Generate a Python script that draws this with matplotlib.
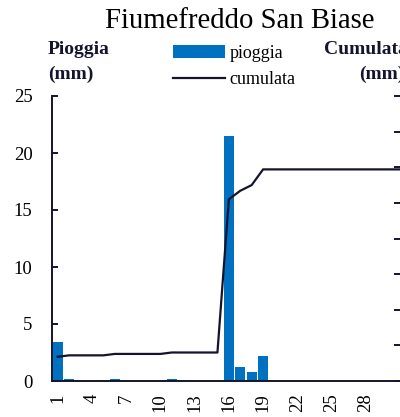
import matplotlib
matplotlib.use("Agg")
import matplotlib.pyplot as plt
import numpy as np

days = list(range(1, 32))
pioggia = [3.4, 0.2, 0, 0, 0, 0.2, 0, 0, 0, 0, 0.2, 0, 0, 0, 0,
           21.5, 1.2, 0.8, 2.2, 0, 0, 0, 0, 0, 0, 0, 0, 0, 0, 0, 0]
cumulata = np.cumsum(pioggia)
xtick_days = [1, 4, 7, 10, 13, 16, 19, 22, 25, 28]

title = "Fiumefreddo San Biase"
bar_color = "#0070C0"
dark = "#14142e"
font = "Liberation Serif"
fs = 13.5
fs_lab = 14

plt.rcParams['font.family'] = font

fig = plt.figure(figsize=(4.0, 4.17), dpi=100)
ax = fig.add_axes([52/400, 36/417, 348/400, 285/417])
ax2 = ax.twinx()

bars = ax.bar(days, pioggia, width=0.88, color=bar_color, label="pioggia", zorder=2)
line, = ax2.plot(days, cumulata, color=dark, lw=1.6, label="cumulata")
ax2.set_zorder(ax.get_zorder() + 1)
ax2.patch.set_visible(False)

ax.set_xlim(0.5, 31)
ax.set_ylim(0, 25)
ax2.set_ylim(0, 40)
ax.set_yticks([0, 5, 10, 15, 20, 25])
ax2.set_yticks(np.arange(0, 45, 5))
ax.set_xticks(xtick_days)
ax.set_xticklabels([str(d) for d in xtick_days], rotation=90, fontsize=fs)

for a in (ax, ax2):
    a.spines['top'].set_visible(False)
    a.spines['right'].set_visible(False)
ax2.spines['left'].set_visible(False)
ax2.spines['bottom'].set_visible(False)
ax.spines['left'].set_color(dark)
ax.spines['bottom'].set_color(dark)
ax.spines['left'].set_linewidth(1.4)
ax.spines['bottom'].set_linewidth(1.4)

ax.tick_params(axis='y', direction='in', length=4, width=1.4, color=dark,
               labelsize=fs, pad=14)
ax.tick_params(axis='x', length=0, labelsize=fs, pad=9)
ax2.tick_params(axis='y', direction='in', length=4, width=1.4, color=dark,
                labelright=False)

fig.text(240/400, 1 - 28/417, title, ha='center', va='baseline', fontsize=20.7)
fig.text(48/400, 1 - 54/417, "Pioggia", ha='left', va='baseline',
         fontsize=fs_lab, fontweight='bold', color=dark)
fig.text(48/400, 1 - 79/417, "(mm)", ha='left', va='baseline',
         fontsize=fs_lab, fontweight='bold', color=dark)
fig.text(408/400, 1 - 54/417, "Cumulata", ha='right', va='baseline',
         fontsize=fs_lab, fontweight='bold', color=dark)
fig.text(405/400, 1 - 79/417, "(mm)", ha='right', va='baseline',
         fontsize=fs_lab, fontweight='bold', color=dark)

fig.legend([bars, line], ["pioggia", "cumulata"], loc='upper left',
           bbox_to_anchor=(173/400, 1 - 45/417), frameon=False,
           fontsize=13, handlelength=2.9, handletextpad=0.25,
           labelspacing=0.5, borderpad=0, borderaxespad=0)

fig.savefig("out.png", dpi=100)
